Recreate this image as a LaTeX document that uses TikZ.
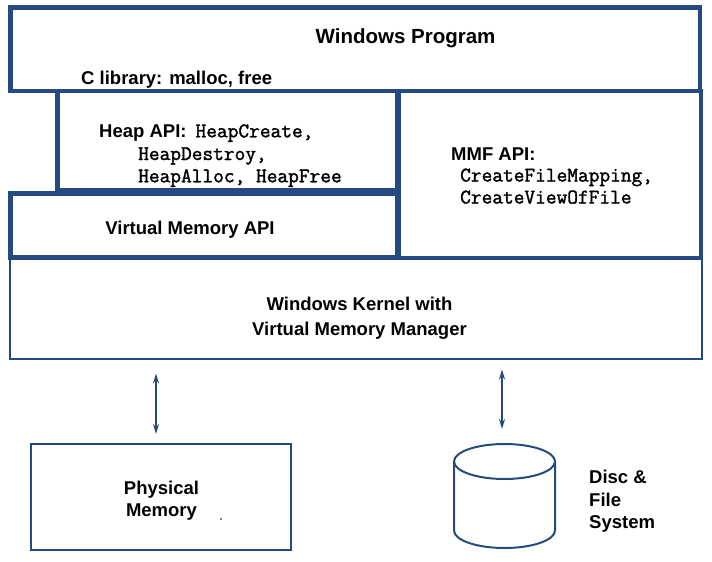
\documentclass[tikz,border=0pt]{standalone}
\usepackage{fontspec}
\setmainfont{Liberation Sans}
\setmonofont{Latin Modern Mono}[AutoFakeBold=1.6]
\usetikzlibrary{arrows.meta}
\definecolor{winblue}{RGB}{36,74,128}
\tikzset{
  thickbox/.style={draw=winblue, line width=4.6pt},
  thinbox/.style={draw=winblue, line width=2pt},
  lbl/.style={inner sep=0pt, font=\fontsize{18.5}{22.5}\selectfont\bfseries},
  monolbl/.style={inner sep=0pt, font=\fontsize{20.8}{22}\selectfont\ttfamily\bfseries},
  titlelbl/.style={inner sep=0pt, font=\fontsize{20.5}{24}\selectfont\bfseries},
  dblarrow/.style={draw=winblue, line width=1.6pt, {Stealth[length=10pt,width=6pt]}-{Stealth[length=10pt,width=6pt]}}
}
\begin{document}
\begin{tikzpicture}[x=1pt,y=-1pt]
\useasboundingbox (0,0) rectangle (712,562);
% kernel (drawn first, under the thick boxes)
\draw[thinbox] (9.5,259) rectangle (702,359);
% thick boxes
\draw[thickbox] (10.5,7.5) rectangle (700,91);
\draw[thickbox] (57.5,91) rectangle (397,190.5);
\draw[thickbox] (10.5,193.5) rectangle (397,257.5);
\draw[thickbox] (398.5,91) rectangle (701,258);
% labels
\node[titlelbl, anchor=base] (wp) at (405.5,43) {Windows Program};
\node[lbl, anchor=base west] (clib) at (81,84) {C library: malloc, free};
\node[lbl, anchor=base west] (heap1) at (99,137.3) {Heap API:\hspace{9pt}{\ttfamily\fontsize{20.8}{22}\selectfont HeapCreate,}};
\node[monolbl, anchor=base west] (heap2) at (138,160) {HeapDestroy,};
\node[monolbl, anchor=base west] (heap3) at (138,182.3) {HeapAlloc, HeapFree};
\node[lbl, anchor=base west] (mmf1) at (451,160) {MMF API:};
\node[monolbl, anchor=base west] (mmf2) at (460,181.5) {CreateFileMapping,};
\node[monolbl, anchor=base west] (mmf3) at (460,203.5) {CreateViewOfFile};
\node[lbl, anchor=base] (vm) at (190,234.3) {Virtual Memory API};
\node[lbl, anchor=base] (k1) at (359.5,310.5) {Windows Kernel with};
\node[lbl, anchor=base] (k2) at (359.5,335) {Virtual Memory Manager};
% physical memory
\node[thinbox, minimum width=260pt, minimum height=106pt, inner sep=0pt] (phys) at (161,497) {};
\node[lbl, anchor=base] (p1) at (161.5,494.5) {Physical};
\node[lbl, anchor=base] (p2) at (161.5,516.5) {Memory};
\fill (221,519) circle (0.8);
% disc cylinder
\draw[thinbox] (454,461.5) -- (454,530.5) arc[start angle=180, end angle=0, x radius=50.5, y radius=17.5] -- (555,461.5);
\draw[thinbox] (504.5,461.5) ellipse [x radius=50.5, y radius=17.5];
\node[lbl, anchor=base west] (d1) at (589,483.5) {Disc \&};
\node[lbl, anchor=base west] (d2) at (589,506) {File};
\node[lbl, anchor=base west] (d3) at (589,528.5) {System};
% arrows
\coordinate (a1top) at (156,373.5);
\coordinate (a1bot) at (156,434);
\coordinate (a2top) at (502,369.5);
\coordinate (a2bot) at (502,429);
\draw[dblarrow] (a1top) -- (a1bot);
\draw[dblarrow] (a2top) -- (a2bot);
\end{tikzpicture}
\end{document}
